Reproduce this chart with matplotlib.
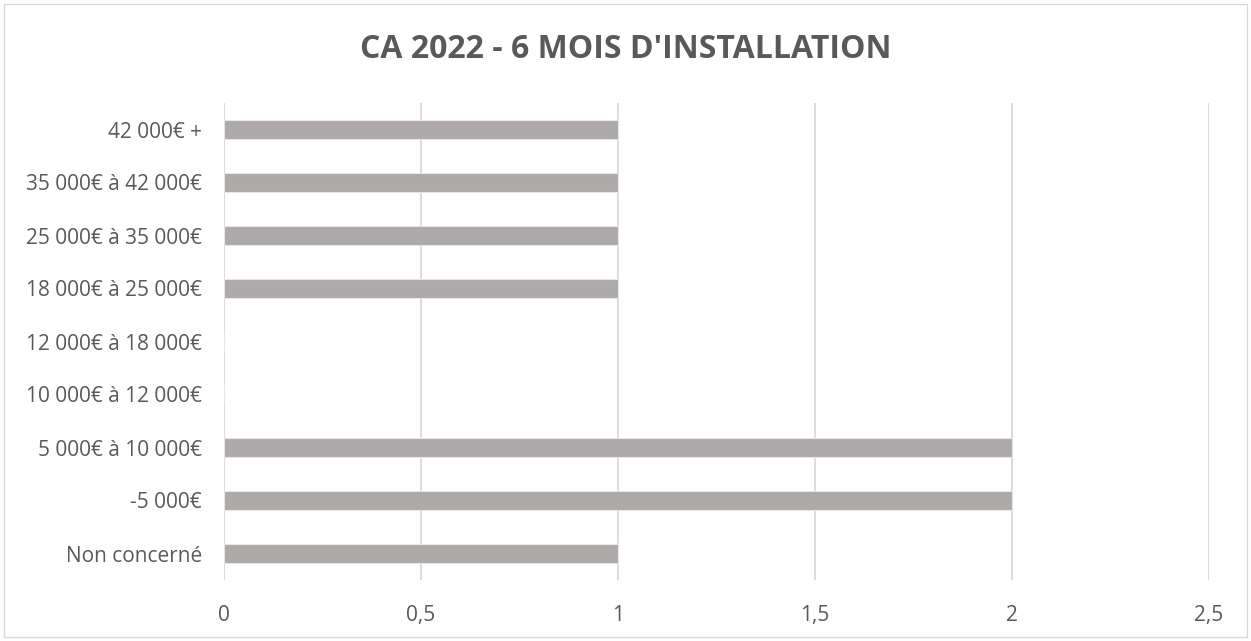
import matplotlib.pyplot as plt
from matplotlib.patches import Rectangle

plt.rcParams["font.family"] = ["Open Sans", "DejaVu Sans"]

categories = [
    "Non concerné",
    "-5 000€",
    "5 000€ à 10 000€",
    "10 000€ à 12 000€",
    "12 000€ à 18 000€",
    "18 000€ à 25 000€",
    "25 000€ à 35 000€",
    "35 000€ à 42 000€",
    "42 000€ +",
]
counts = [1, 2, 2, 0, 0, 1, 1, 1, 1]
x_ticks = [0, 0.5, 1, 1.5, 2, 2.5]
x_tick_labels = ["0", "0,5", "1", "1,5", "2", "2,5"]
title = "CA 2022 - 6 MOIS D'INSTALLATION"

text_color = "#595959"
grid_color = "#D9D9D9"
bar_color = "#AEAAAA"

W, H = 1251, 641
fig = plt.figure(figsize=(W / 100, H / 100), dpi=100)
ax = fig.add_axes([224 / W, 1 - 580 / H, (1209 - 224) / W, (580 - 103) / H])

ax.barh(range(len(categories)), counts, height=0.355, color=bar_color,
        edgecolor="#E6E6E6", linewidth=0.8, zorder=3)

ax.set_xlim(0, 2.5)
ax.set_ylim(-0.5, len(categories) - 0.5)
ax.set_xticks(x_ticks)
ax.set_xticklabels(x_tick_labels)
ax.set_yticks(range(len(categories)))
ax.set_yticklabels(categories)
ax.tick_params(axis="both", length=0, labelsize=15, labelcolor=text_color)
ax.tick_params(axis="x", pad=18)
ax.tick_params(axis="y", pad=16)

ax.grid(axis="x", color=grid_color, linewidth=1.3, zorder=0)
for spine in ax.spines.values():
    spine.set_visible(False)

fig.text(0.5, 1 - 50 / H, title, ha="center", va="center", fontsize=23,
         fontweight="bold", color=text_color)

fig.patches.append(Rectangle((4 / W, 4 / H), 1 - 8 / W, 1 - 8 / H,
                             transform=fig.transFigure, fill=False,
                             edgecolor="#D9D9D9", linewidth=1))

fig.savefig("out.png", dpi=100)
